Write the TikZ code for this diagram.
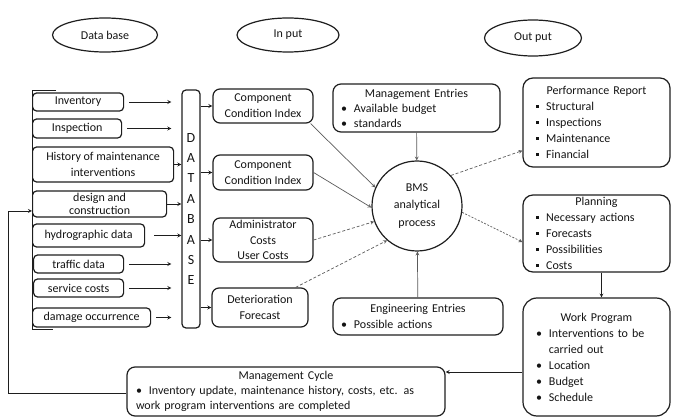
\documentclass[tikz,border=0pt]{standalone}
\usepackage{fontspec}
\setmainfont{Carlito}
\usetikzlibrary{shapes,arrows,positioning,calc}
\definecolor{framecolor}{RGB}{30,30,30}
\definecolor{linkcolor}{RGB}{90,90,90}
\definecolor{textcolor}{RGB}{20,20,20}
\newcommand{\boxhead}[1]{\makebox[\hsize]{#1}}
\newcommand{\sqbullet}{\rule[0.22em]{3.2pt}{3.2pt}\hspace{7pt}}
\newcommand{\rdbullet}{\textbullet\hspace{7pt}}

\begin{document}
\begin{tikzpicture}[
    x=1pt, y=-1pt,
    every node/.style={font=\fontsize{12}{16}\selectfont, text=textcolor},
    heading/.style={ellipse, draw=framecolor, line width=1.2pt, inner sep=0pt},
    srcbox/.style={rectangle, rounded corners=4pt, draw=framecolor, line width=1.2pt, align=center, inner sep=0pt, anchor=west},
    dbbox/.style={rectangle, rounded corners=4pt, draw=framecolor, line width=1.2pt, align=center, inner sep=0pt, font=\fontsize{14}{20.4}\selectfont},
    midbox/.style={rectangle, rounded corners=7pt, draw=framecolor, line width=1.2pt, align=center, inner sep=0pt, minimum width=100pt},
    entrybox/.style={rectangle, rounded corners=8pt, draw=framecolor, line width=1.2pt, align=left, inner xsep=8pt, inner ysep=0pt},
    outbox/.style={rectangle, rounded corners=10pt, draw=framecolor, line width=1.2pt, align=left, inner xsep=13pt, inner ysep=0pt, text width=121pt},
    process/.style={circle, draw=framecolor, line width=1.2pt, minimum size=90pt, inner sep=0pt, align=center, font=\fontsize{12}{17.5}\selectfont},
    arrow/.style={->, >=stealth, line width=0.8pt, framecolor},
    link/.style={->, >=stealth, line width=0.7pt, linkcolor},
    dashlink/.style={link, dash pattern=on 3pt off 2pt}
]
\useasboundingbox (0,0) rectangle (673,417);

% Column headings
\node[heading, minimum width=105pt, minimum height=34pt] (hdata) at (105,35) {Data base};
\node[heading, minimum width=102pt, minimum height=34pt] (hinput) at (288,35) {In put};
\node[heading, minimum width=97pt, minimum height=36pt] (hout) at (533,38) {Out put};

% Data sources
\node[srcbox, minimum width=91pt, minimum height=18pt] (inv) at (32,102) {Inventory};
\node[srcbox, minimum width=89pt, minimum height=19pt] (insp) at (32,128.5) {Inspection};
\node[srcbox, minimum width=141pt, minimum height=35pt] (hist) at (32,164.5) {History of maintenance\\interventions};
\node[srcbox, minimum width=134pt, minimum height=26pt, font=\fontsize{12}{13}\selectfont] (design) at (32,204) {design and\\construction};
\node[srcbox, minimum width=112pt, minimum height=23pt] (hydro) at (32,235.5) {hydrographic data};
\node[srcbox, minimum width=90pt, minimum height=18pt] (traffic) at (33,264) {traffic data};
\node[srcbox, minimum width=90pt, minimum height=18pt] (service) at (33,288) {service costs};
\node[srcbox, minimum width=118pt, minimum height=19pt] (damage) at (32,317.5) {damage occurrence};

% bracket holding the sources
\draw[framecolor, line width=0.8pt] (56,90) -- (32,90) -- (32,329) -- (53,329);

% Database column
\node[dbbox, minimum width=18pt, minimum height=238pt] (db) at (191,209) {D\\A\\T\\A\\B\\A\\S\\E};

% Input boxes
\node[midbox, minimum height=34pt] (cci1) at (263,106) {Component\\Condition Index};
\node[midbox, minimum height=35pt] (cci2) at (263,172.5) {Component\\Condition Index};
\node[midbox, minimum height=44pt, font=\fontsize{12}{15.5}\selectfont] (admin) at (263,240) {Administrator\\Costs\\User Costs};
\node[midbox, minimum width=96pt, minimum height=39pt] (deter) at (260,307.5) {Deterioration\\Forecast};

% Entries and analysis
\node[entrybox, text width=151pt, minimum height=48pt, font=\fontsize{12}{15}\selectfont] (ment) at (416.5,108) {\boxhead{Management Entries}\\ \rdbullet Available budget\\ \rdbullet standards};
\node[entrybox, text width=154pt, minimum height=37pt] (eng) at (418,316.5) {\boxhead{Engineering Entries}\\ \rdbullet Possible actions};
\node[process] (bms) at (417,206) {BMS\\analytical\\process};

% Outputs
\node[outbox, minimum height=89pt] (perf) at (596.5,122.5) {\boxhead{Performance Report}\\ \sqbullet Structural\\ \sqbullet Inspections\\ \sqbullet Maintenance\\ \sqbullet Financial};
\node[outbox, minimum height=77pt] (plan) at (596.5,233.5) {\boxhead{Planning}\\ \sqbullet Necessary actions\\ \sqbullet Forecasts\\ \sqbullet Possibilities\\ \sqbullet Costs};
\node[outbox, minimum height=118pt, rounded corners=14pt] (work) at (596.5,357) {\boxhead{Work Program}\\ \rdbullet Interventions to be\\ \phantom{\rdbullet}carried out\\ \rdbullet Location\\ \rdbullet Budget\\ \rdbullet Schedule};
\node[entrybox, text width=300pt, inner xsep=9pt, minimum height=49pt, font=\fontsize{12}{15}\selectfont] (mcycle) at (286,391.5) {\boxhead{Management Cycle}\\ \rdbullet Inventory update, maintenance history, costs, etc. as\\ work program interventions are completed};

% Sources feed the database
\draw[arrow, shorten <=5pt, shorten >=10pt] (inv.east) -- (inv.east -| db.west);
\draw[arrow, shorten <=5pt, shorten >=10pt] (insp.east) -- (insp.east -| db.west);
\draw[arrow] (hist.east) -- (hist.east -| db.west);
\draw[arrow] (design.east) -- (design.east -| db.west);
\draw[arrow, shorten <=9pt] (hydro.east) -- (hydro.east -| db.west);
\draw[arrow, shorten <=5pt, shorten >=10pt] (traffic.east) -- (traffic.east -| db.west);
\draw[arrow, shorten <=5pt, shorten >=10pt] (service.east) -- (service.east -| db.west);
\draw[arrow, shorten <=5pt, shorten >=10pt] (damage.east) -- (damage.east -| db.west);

% Database to input boxes
\draw[arrow] (db.east |- cci1.west) -- (cci1.west);
\draw[arrow] (db.east |- cci2.west) -- (cci2.west);
\draw[arrow] (db.east |- admin.west) -- (admin.west);
\draw[arrow] (db.east |- deter.west) -- (deter.west);

% Inputs to the analytical process
\draw[link] ([xshift=-3pt]cci1.south east) -- (bms.156);
\draw[link] (cci2.east) -- (bms.182);
\draw[dashlink] (admin.east) -- (bms.200);
\draw[dashlink] ([xshift=-13pt]deter.north east) -- (bms.229);
\draw[link] (ment) -- (bms);
\draw[link] (eng) -- (bms);

% Process to outputs
\draw[dashlink] (bms.42) -- ([yshift=17pt]perf.south west);
\draw[link, dash pattern=on 2pt off 1.5pt] (bms.-8) -- ([yshift=-8.5pt]plan.west);
\draw[arrow, line width=0.7pt] ([xshift=5pt]plan.south) -- ([xshift=5pt]plan.south |- work.north);
\draw[arrow] ([yshift=-15pt]work.west) -- ([yshift=-15pt]work.west -| mcycle.east);

% Feedback loop to the sources
\coordinate (loop) at (8,393);
\draw[arrow] (mcycle.west |- loop) -- (loop) |- ([yshift=-7pt]design.west);

\end{tikzpicture}
\end{document}
